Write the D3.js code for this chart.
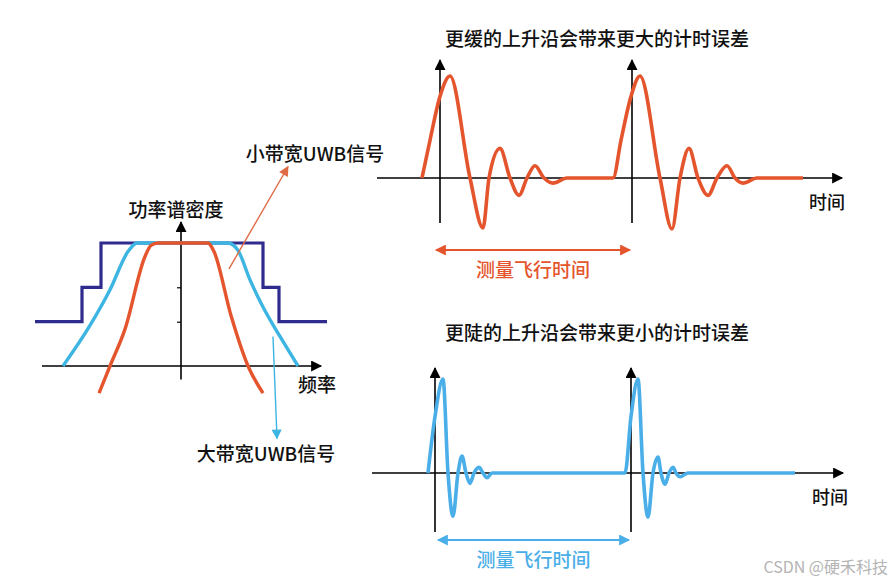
<!DOCTYPE html>
<html>
<head>
<meta charset="utf-8">
<script src="https://cdn.jsdelivr.net/npm/d3@7"></script>
<style>
  body { margin: 0; background: #fff; }
  text { font-family: "Noto Sans CJK SC", "Noto Sans", sans-serif; }
</style>
</head>
<body>
<script>
//constants
    const w = 894;
    const h = 581;

    const orange = "#e4552d";
    const cyan = "#3db5e2";
    const blue = "#4aaee8";
    const navy = "#2f2c8e";

//data - left chart, power spectral density (freq units, normalised PSD)
    const maskPts = [[-14.6, 0.36], [-9.9, 0.64], [-8.0, 1.0], [8.2, 0.64], [9.8, 0.36], [14.6, 0.36]];
    const wideBandPts = [[-11.8, 0], [-9.1, 0.33], [-7.1, 0.62], [-5.3, 0.93], [-4.4, 1.0],
                         [4.7, 1.0], [5.7, 0.94], [6.9, 0.70], [8.2, 0.48], [9.9, 0.24], [11.7, 0]];
    const narrowBandPts = [[-8.2, -0.22], [-7.1, 0], [-5.6, 0.30], [-3.6, 0.89], [-3.0, 0.98], [-2.3, 1.0],
                           [2.7, 1.0], [3.3, 0.93], [5.0, 0.41], [6.7, 0], [8.2, -0.22]];
    const psdTicks = [0.36, 0.64];

//data - slow rise waveform (time units, amplitude)
    const slowPulse = [[-1.8, 0], [-1.0, 0.37], [0, 0.8], [1.0, 1.0], [3.0, 0], [4.3, -0.49], [4.9, 0], [6.0, 0.29],
                       [7.0, 0], [7.9, -0.17], [8.7, 0], [9.5, 0.12], [10.4, 0], [11.3, -0.05], [12.7, 0],
                       [17.3, 0], [18.1, 0.37], [19.1, 0.8], [20.0, 1.0], [22.0, 0], [23.2, -0.5], [24.0, 0], [24.9, 0.29],
                       [25.8, 0], [26.8, -0.17], [27.7, 0], [28.7, 0.12], [29.5, 0], [30.3, -0.05], [31.7, 0], [36.3, 0]];
    const slowAxes = [0, 19.2];
    const slowSpan = [-0.5, 19.1];

//data - fast rise waveform
    const fastPulse = [[-0.7, 0], [0, 0.6], [0.8, 1.0], [1.3, 0], [1.8, -0.46], [2.3, 0], [2.7, 0.18], [3.1, 0],
                       [3.5, -0.11], [3.9, 0], [4.4, 0.06], [4.8, 0], [5.2, -0.05], [5.7, 0],
                       [19.0, 0], [19.6, 0.6], [20.3, 1.0], [20.8, 0], [21.3, -0.47], [21.8, 0], [22.3, 0.17], [22.6, 0],
                       [23.0, -0.12], [23.4, 0], [23.8, 0.06], [24.1, 0], [24.5, -0.04], [25.3, 0], [36.0, 0]];
    const fastAxes = [0, 19.6];
    const fastSpan = [0.2, 19.5];

//labels
    const titles = ["更缓的上升沿会带来更大的计时误差", "更陡的上升沿会带来更小的计时误差"];
    const tofLabel = "测量飞行时间";
    const timeLabel = "时间";


//SVG
    const svg = d3.select("body")
                .append("svg")
                .attr("width", w)
                .attr("height", h);

    const defs = svg.append("defs");
    function marker(id, color, len, wid) {
        defs.append("marker")
            .attr("id", id)
            .attr("viewBox", "0 0 10 10")
            .attr("refX", 9).attr("refY", 5)
            .attr("markerUnits", "userSpaceOnUse")
            .attr("markerWidth", len).attr("markerHeight", wid)
            .attr("orient", "auto-start-reverse")
            .append("path")
            .attr("d", "M0,0 L10,5 L0,10 z")
            .attr("fill", color);
    }
    marker("ah-black", "#000", 13, 11);
    marker("ah-orange", orange, 13, 11);
    marker("ah-blue", blue, 13, 11);
    marker("ah-cyan", cyan, 12, 10);
    marker("ah-thin", "#e06a45", 12, 10);

    const seg = d3.line();
    function arrow(p0, p1, color, width, mk, both) {
        const l = svg.append("path")
            .attr("d", seg([p0, p1]))
            .attr("stroke", color)
            .attr("stroke-width", width)
            .attr("fill", "none")
            .attr("marker-end", "url(#" + mk + ")");
        if (both) l.attr("marker-start", "url(#" + mk + ")");
    }
    function label(txt, x, y, size, color, weight) {
        svg.append("text")
            .attr("x", x).attr("y", y)
            .attr("text-anchor", "middle")
            .attr("dominant-baseline", "central")
            .attr("font-size", size)
            .attr("font-weight", weight || 500)
            .attr("fill", color || "#111")
            .text(txt);
    }

//left chart: PSD
    const fScale = d3.scaleLinear().domain([-15, 15]).range([31, 331]);
    const pScale = d3.scaleLinear().domain([0, 1]).range([366, 243]);

    arrow([fScale(-13.9), pScale(0)], [fScale(14.0), pScale(0)], "#000", 1.6, "ah-black");
    arrow([fScale(0), pScale(-0.11)], [fScale(0), pScale(1.17)], "#000", 1.6, "ah-black");

    const yAxis = d3.axisLeft(pScale).tickValues(psdTicks).tickSize(4).tickFormat("");
    const ag = svg.append("g")
        .attr("transform", "translate(" + fScale(0) + ",0)")
        .call(yAxis);
    ag.select(".domain").remove();
    ag.selectAll("line").attr("stroke-width", 1.2);

    const psdLine = d3.line().x(d => fScale(d[0])).y(d => pScale(d[1]));
    svg.append("path")
        .attr("d", psdLine.curve(d3.curveStepAfter)(maskPts))
        .attr("stroke", navy).attr("stroke-width", 3.2).attr("fill", "none");
    svg.append("path")
        .attr("d", psdLine.curve(d3.curveMonotoneX)(wideBandPts))
        .attr("stroke", cyan).attr("stroke-width", 3.4).attr("fill", "none");
    svg.append("path")
        .attr("d", psdLine.curve(d3.curveMonotoneX)(narrowBandPts))
        .attr("stroke", orange).attr("stroke-width", 3.4).attr("fill", "none");

    // callout arrows
    arrow([fScale(4.8), pScale(0.79)], [fScale(10.7), pScale(1.62)], "#e06a45", 1.4, "ah-thin");
    arrow([fScale(9.2), pScale(0.24)], [fScale(9.6), pScale(-0.59)], cyan, 1.4, "ah-cyan");

    label("功率谱密度", 176, 208, 19);
    label("频率", 317, 383, 19);
    label("小带宽UWB信号", 315, 152, 19);
    label("大带宽UWB信号", 266, 452, 19);

//right charts: waveforms
    function wavePanel(pulse, axesT, span, x0, y0, amp, yTop, yBot, xEnd, color, mk, title, titleY, tofY, timeX, timeY) {
        const tScale = d3.scaleLinear().domain([0, 1]).range([x0, x0 + 10]);
        const aScale = d3.scaleLinear().domain([-1, 1]).range([y0 + amp, y0 - amp]);

        arrow([tScale(-6.3), aScale(0)], [tScale(xEnd), aScale(0)], "#000", 1.6, "ah-black");
        axesT.forEach(t => {
            arrow([tScale(t), yBot], [tScale(t), yTop], "#000", 1.6, "ah-black");
        });

        svg.append("path")
            .attr("d", d3.line().x(d => tScale(d[0])).y(d => aScale(d[1])).curve(d3.curveMonotoneX)(pulse))
            .attr("stroke", color).attr("stroke-width", 3.6)
            .attr("stroke-linejoin", "round")
            .attr("fill", "none");

        arrow([tScale(span[0]) + 1, tofY], [tScale(span[1]) - 1, tofY], color, 1.8, mk, true);
        label(tofLabel, (tScale(span[0]) + tScale(span[1])) / 2, tofY + 18, 19, color);
        label(title, 597, titleY, 19, "#111");
        label(timeLabel, timeX, timeY, 18, "#111");
    }

    wavePanel(slowPulse, slowAxes, slowSpan, 440, 178, 102, 60, 223, 40.2, orange, "ah-orange",
              titles[0], 37, 250, 827, 201);
    wavePanel(fastPulse, fastAxes, fastSpan, 435, 473, 94, 368, 532, 40.8, blue, "ah-blue",
              titles[1], 331, 540, 830, 496);

    svg.append("text")
        .attr("x", 888).attr("y", 566)
        .attr("text-anchor", "end")
        .attr("dominant-baseline", "central")
        .attr("font-size", 16)
        .attr("fill", "#b4b4b4")
        .text("CSDN @硬禾科技");
</script>
</body>
</html>
